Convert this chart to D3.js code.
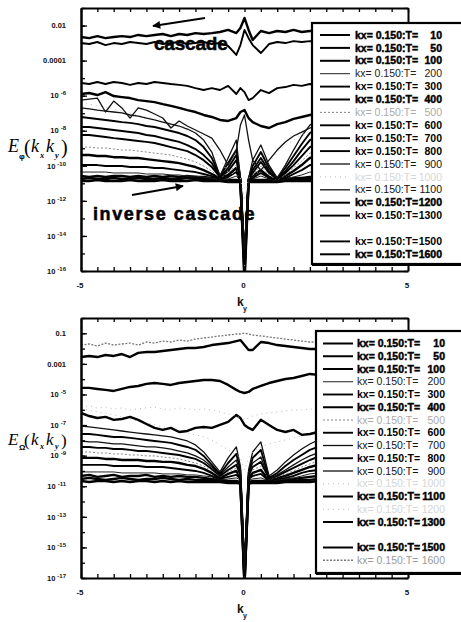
<!DOCTYPE html>
<html>
<head>
<meta charset="utf-8">
<script src="https://cdn.jsdelivr.net/npm/d3@7"></script>
<style>
  html, body { margin: 0; padding: 0; background: #fff; }
  svg { display: block; }
</style>
</head>
<body>
<svg id="chart" width="461" height="622"></svg>
<script>
// ky sample points (finer around ky = 0)
const ky = [-5,-4.75,-4.5,-4.25,-4,-3.75,-3.5,-3.25,-3,-2.75,-2.5,-2.25,-2,-1.75,-1.5,-1.25,-1,-0.75,-0.5,-0.25,
  -0.125,0,0.125,
  0.25,0.5,0.75,1,1.25,1.5,1.75,2,2.25,2.5,2.75,3,3.25,3.5,3.75,4,4.25,4.5,4.75,5];

const legendT = [10,50,100,200,300,400,500,600,700,800,900,1000,1100,1200,1300,1400,1500,1600];

// ---------- E_phi(kx=0.15, ky) ----------
const phiT1600 = [2.2e-3,1.9e-3,2.5e-3,1.9e-3,2.2e-3,2.5e-3,2.2e-3,2.9e-3,2.5e-3,2.9e-3,3.3e-3,2.5e-3,3.3e-3,2.9e-3,3.7e-3,3.3e-3,3.7e-3,4.3e-3,5.6e-3,3.7e-3,
  7.2e-3,2.7e-2,5.6e-3,
  1.5e-3,4.9e-3,3.7e-3,4.9e-3,4.3e-3,5.6e-3,4.3e-3,4.9e-3,4.9e-3,5.6e-3,4.3e-3,4.9e-3,5.6e-3,4.9e-3,4.3e-3,5.6e-3,4.9e-3,5.6e-3,4.9e-3,5.6e-3];
const phiT1500 = [1.0e-3,8.8e-4,1.15e-3,7.7e-4,1.0e-3,8.8e-4,1.15e-3,1.0e-3,8.8e-4,1.15e-3,8.8e-4,1.0e-3,1.15e-3,8.8e-4,1.0e-3,1.15e-3,8.8e-4,1.0e-3,6.8e-4,2.1e-4,
  7.7e-4,5.6e-3,1.9e-3,
  7.7e-4,2.7e-4,8.8e-4,1.15e-3,1.0e-3,1.3e-3,1.15e-3,1.3e-3,1.15e-3,1.3e-3,1.0e-3,1.15e-3,1.3e-3,1.15e-3,1.0e-3,1.3e-3,1.15e-3,1.3e-3,1.15e-3,1.3e-3];
const phiT1300 = [5.3e-6,4.6e-6,6.0e-6,4.6e-6,6.0e-6,5.3e-6,4.1e-6,5.3e-6,4.6e-6,6.0e-6,5.3e-6,4.6e-6,4.1e-6,3.6e-6,2.7e-6,2.1e-6,2.7e-6,2.1e-6,3.6e-6,1.24e-6,
  2.7e-6,1.6e-6,5.6e-7,
  7.3e-7,2.1e-6,1.4e-6,2.7e-6,3.1e-6,4.1e-6,3.6e-6,4.6e-6,4.1e-6,4.6e-6,5.3e-6,4.1e-6,4.6e-6,5.3e-6,4.6e-6,4.1e-6,5.3e-6,4.6e-6,5.3e-6,4.6e-6];
const phiT1200 = [1.24e-6,1.42e-6,1.09e-6,1.6e-6,9.5e-7,8.3e-7,7.3e-7,5.6e-7,4.9e-7,4.3e-7,3.3e-7,2.6e-7,2.0e-7,1.5e-7,1.17e-7,7.9e-8,6.1e-8,4.1e-8,3.6e-8,5.3e-8,
  1.17e-7,1.5e-7,5.3e-8,
  3.1e-8,1.86e-8,1.43e-8,2.4e-8,3.1e-8,4.7e-8,6.1e-8,7.9e-8,1.03e-7,1.33e-7,1.5e-7,2.0e-7,2.3e-7,2.6e-7,2.9e-7,3.3e-7,3.8e-7,4.3e-7,4.3e-7,4.9e-7];
const phiT1100 = [5.6e-7,6.4e-7,7.3e-7,1.17e-7,4.9e-7,2.0e-7,5.3e-8,2.0e-7,1.5e-7,9.0e-8,5.3e-8,1.43e-8,3.6e-8,1.86e-8,1.1e-8,6.5e-9,3.8e-9,7.9e-10,1.1e-10,7.9e-10,
  2.1e-8,7.9e-8,2.95e-9,
  2.1e-10,5.7e-11,2.1e-10,7.9e-10,2.3e-9,5.0e-9,8.4e-9,1.43e-8,2.1e-8,3.1e-8,4.1e-8,5.3e-8,6.9e-8,9.0e-8,1.17e-7,1.33e-7,1.5e-7,1.75e-7,2.0e-7,2.0e-7];
const phiT1000 = [3.8e-7,3.3e-7,2.6e-7,2.3e-7,1.75e-7,1.33e-7,1.03e-7,7.9e-8,6.1e-8,4.7e-8,3.6e-8,2.8e-8,2.1e-8,1.43e-8,8.4e-9,4.4e-9,1.53e-9,2.1e-10,4.4e-11,3.0e-11,
  2.0e-11,1.1e-12,2.0e-11,
  3.0e-11,5.7e-11,1.64e-10,6.1e-10,1.53e-9,2.95e-9,5.7e-9,9.6e-9,1.43e-8,2.1e-8,2.8e-8,3.6e-8,4.7e-8,6.1e-8,6.9e-8,7.9e-8,9.0e-8,1.03e-7,1.17e-7,1.17e-7];
const phiT900 = [2.0e-7,1.75e-7,1.5e-7,1.33e-7,1.17e-7,1.03e-7,7.9e-8,6.9e-8,5.3e-8,4.1e-8,3.1e-8,2.4e-8,1.86e-8,1.25e-8,7.4e-9,2.95e-9,6.1e-10,2.6e-11,2.8e-10,2.95e-9,
  2.0e-11,1.6e-15,2.0e-11,
  2.1e-10,1.53e-9,1.1e-10,2.0e-11,1.1e-10,7.9e-10,5.0e-9,2.1e-8,4.1e-8,6.1e-8,7.9e-8,9.0e-8,1.03e-7,1.17e-7,1.33e-7,1.5e-7,1.5e-7,1.75e-7,1.75e-7,2.0e-7];
const phiT800 = [6.1e-8,5.3e-8,4.7e-8,4.1e-8,3.6e-8,3.1e-8,2.8e-8,2.4e-8,1.86e-8,1.63e-8,1.25e-8,9.6e-9,7.4e-9,5.0e-9,2.95e-9,1.17e-9,2.8e-10,2.6e-11,1.43e-10,7.9e-10,
  1.77e-11,8.1e-16,1.77e-11,
  9.7e-11,6.1e-10,7.5e-11,2.0e-11,7.5e-11,3.6e-10,1.75e-9,7.4e-9,1.43e-8,2.1e-8,2.8e-8,3.1e-8,3.6e-8,4.1e-8,4.7e-8,4.7e-8,5.3e-8,5.3e-8,6.1e-8,6.1e-8];
const phiT700 = [1.63e-8,1.63e-8,1.43e-8,1.25e-8,1.1e-8,9.6e-9,8.4e-9,7.4e-9,5.7e-9,5.0e-9,3.8e-9,2.95e-9,2.3e-9,1.53e-9,9.0e-10,4.1e-10,1.43e-10,2.3e-11,7.5e-11,4.1e-10,
  1.77e-11,4.2e-16,1.77e-11,
  5.7e-11,2.8e-10,5.0e-11,1.77e-11,5.0e-11,1.86e-10,7.9e-10,2.95e-9,5.0e-9,7.4e-9,9.6e-9,1.1e-8,1.25e-8,1.25e-8,1.43e-8,1.43e-8,1.63e-8,1.63e-8,1.63e-8,1.63e-8];
const phiT600 = [5.7e-9,5.7e-9,5.0e-9,4.4e-9,3.8e-9,3.4e-9,2.95e-9,2.6e-9,2.3e-9,2.0e-9,1.53e-9,1.17e-9,9.0e-10,6.9e-10,4.1e-10,2.1e-10,8.5e-11,2.3e-11,5.0e-11,2.1e-10,
  1.55e-11,2.5e-16,1.55e-11,
  3.9e-11,1.64e-10,3.9e-11,1.77e-11,3.9e-11,1.1e-10,3.6e-10,1.17e-9,2.0e-9,2.6e-9,3.4e-9,3.8e-9,4.4e-9,5.0e-9,5.0e-9,5.7e-9,5.7e-9,5.7e-9,5.7e-9,5.7e-9];
const phiT500 = [1.17e-9,1.17e-9,1.03e-9,1.03e-9,9.0e-10,7.9e-10,7.9e-10,6.9e-10,6.1e-10,5.3e-10,4.7e-10,4.1e-10,3.1e-10,2.4e-10,1.64e-10,9.7e-11,5.0e-11,2.0e-11,3.9e-11,1.1e-10,
  1.55e-11,1.9e-16,1.55e-11,
  3.0e-11,9.7e-11,3.0e-11,1.55e-11,3.0e-11,7.5e-11,1.86e-10,5.3e-10,7.9e-10,9.0e-10,1.03e-9,1.03e-9,1.17e-9,1.17e-9,1.17e-9,1.17e-9,1.17e-9,1.17e-9,1.17e-9,1.17e-9];
const phiT400 = [4.1e-10,4.1e-10,3.6e-10,3.6e-10,3.1e-10,3.1e-10,2.8e-10,2.8e-10,2.4e-10,2.1e-10,1.86e-10,1.64e-10,1.43e-10,1.1e-10,8.5e-11,5.7e-11,3.4e-11,2.0e-11,3.0e-11,7.5e-11,
  1.55e-11,1.5e-16,1.55e-11,
  2.6e-11,5.7e-11,2.3e-11,1.55e-11,2.6e-11,5.0e-11,1.1e-10,2.8e-10,3.6e-10,4.1e-10,4.1e-10,4.1e-10,4.1e-10,4.1e-10,4.1e-10,4.1e-10,4.1e-10,4.1e-10,4.1e-10,4.1e-10];
const phiT300 = [1.1e-10,1.1e-10,1.1e-10,9.7e-11,9.7e-11,9.7e-11,8.5e-11,8.5e-11,8.5e-11,7.5e-11,7.5e-11,6.5e-11,5.7e-11,5.0e-11,4.4e-11,3.4e-11,2.6e-11,1.77e-11,2.3e-11,4.4e-11,
  1.36e-11,1.1e-16,1.36e-11,
  2.0e-11,3.9e-11,2.0e-11,1.55e-11,2.0e-11,3.4e-11,5.7e-11,1.1e-10,1.1e-10,1.1e-10,1.1e-10,1.1e-10,1.1e-10,1.1e-10,1.1e-10,1.1e-10,1.1e-10,1.1e-10,1.1e-10,1.1e-10];
const phiT200 = [4.4e-11,4.4e-11,4.4e-11,4.4e-11,3.9e-11,3.9e-11,3.9e-11,3.9e-11,3.4e-11,3.4e-11,3.4e-11,3.0e-11,3.0e-11,2.6e-11,2.6e-11,2.3e-11,2.0e-11,1.55e-11,1.77e-11,2.6e-11,
  1.36e-11,1.0e-16,1.36e-11,
  1.77e-11,2.6e-11,1.77e-11,1.36e-11,1.77e-11,2.3e-11,3.0e-11,4.4e-11,4.4e-11,4.4e-11,4.4e-11,4.4e-11,4.4e-11,4.4e-11,4.4e-11,4.4e-11,4.4e-11,4.4e-11,4.4e-11,4.4e-11];
const phiT100 = [2.6e-11,2.3e-11,2.6e-11,2.3e-11,2.6e-11,2.6e-11,2.3e-11,2.6e-11,2.3e-11,2.6e-11,2.3e-11,2.6e-11,2.3e-11,2.6e-11,2.3e-11,2.3e-11,2.0e-11,1.77e-11,1.55e-11,1.55e-11,
  1.36e-11,3.2e-16,1.36e-11,
  1.55e-11,1.55e-11,1.55e-11,1.55e-11,1.77e-11,2.0e-11,2.0e-11,2.3e-11,2.3e-11,2.6e-11,2.3e-11,2.6e-11,2.3e-11,2.6e-11,2.3e-11,2.6e-11,2.3e-11,2.6e-11,2.3e-11,2.6e-11];
const phiT50 = [1.77e-11,2.0e-11,1.77e-11,1.77e-11,2.0e-11,1.77e-11,1.77e-11,2.0e-11,1.77e-11,1.77e-11,2.0e-11,1.77e-11,1.77e-11,2.0e-11,1.77e-11,1.77e-11,1.77e-11,1.55e-11,1.36e-11,1.36e-11,
  1.19e-11,5e-17,1.19e-11,
  1.36e-11,1.36e-11,1.36e-11,1.36e-11,1.55e-11,1.55e-11,1.77e-11,1.77e-11,1.77e-11,2.0e-11,1.77e-11,1.77e-11,2.0e-11,1.77e-11,1.77e-11,2.0e-11,1.77e-11,1.77e-11,2.0e-11,1.77e-11];
const phiT10 = [1.36e-11,1.36e-11,1.55e-11,1.36e-11,1.36e-11,1.36e-11,1.55e-11,1.36e-11,1.36e-11,1.36e-11,1.55e-11,1.36e-11,1.36e-11,1.36e-11,1.55e-11,1.36e-11,1.36e-11,1.36e-11,1.19e-11,1.19e-11,
  1.19e-11,2e-17,1.19e-11,
  1.19e-11,1.19e-11,1.19e-11,1.19e-11,1.36e-11,1.36e-11,1.36e-11,1.36e-11,1.36e-11,1.36e-11,1.36e-11,1.36e-11,1.36e-11,1.36e-11,1.36e-11,1.36e-11,1.36e-11,1.36e-11,1.36e-11,1.36e-11];

// ---------- E_Omega(kx=0.15, ky) ----------
const omT1600 = [1.7e-2,2.0e-2,1.48e-2,2.3e-2,1.7e-2,2.0e-2,2.3e-2,1.7e-2,2.7e-2,2.3e-2,3.1e-2,2.7e-2,3.6e-2,3.1e-2,4.2e-2,4.9e-2,5.7e-2,6.7e-2,7.7e-2,9.0e-2,
  9.0e-2,1.05e-1,9.0e-2,
  7.7e-2,6.7e-2,5.7e-2,4.9e-2,4.2e-2,3.6e-2,3.1e-2,2.7e-2,2.7e-2,2.3e-2,2.7e-2,2.3e-2,2.7e-2,3.1e-2,2.7e-2,2.3e-2,2.7e-2,2.3e-2,2.7e-2,2.3e-2];
const omT1500 = [2.8e-3,3.3e-3,2.8e-3,3.8e-3,3.3e-3,4.4e-3,2.8e-3,5.2e-3,6.0e-3,6.0e-3,7.0e-3,8.1e-3,9.4e-3,1.09e-2,1.09e-2,1.27e-2,1.7e-2,2.0e-2,2.3e-2,3.1e-2,
  3.6e-2,1.7e-2,8.1e-3,
  8.1e-3,2.7e-2,2.3e-2,1.7e-2,1.48e-2,1.27e-2,1.09e-2,9.4e-3,9.4e-3,8.1e-3,9.4e-3,1.09e-2,9.4e-3,8.1e-3,9.4e-3,1.09e-2,9.4e-3,8.1e-3,9.4e-3,8.1e-3];
const omT1300 = [2.7e-5,2.7e-5,2.3e-5,2.0e-5,1.7e-5,2.3e-5,3.1e-5,3.6e-5,4.9e-5,5.6e-5,4.9e-5,4.2e-5,5.6e-5,6.6e-5,7.6e-5,8.9e-5,8.9e-5,7.6e-5,4.2e-5,2.0e-5,
  1.46e-5,1.25e-5,1.46e-5,
  2.3e-5,3.6e-5,5.6e-5,7.6e-5,1.03e-4,1.2e-4,1.62e-4,2.2e-4,1.9e-4,1.62e-4,1.39e-4,1.62e-4,1.2e-4,1.03e-4,8.9e-5,7.6e-5,6.6e-5,5.6e-5,4.9e-5,4.2e-5];
const omT1200 = [1.52e-6,1.77e-6,1.31e-6,1.52e-6,1.13e-6,1.31e-6,9.7e-7,1.13e-6,1.31e-6,1.52e-6,1.13e-6,9.7e-7,1.31e-6,1.13e-6,9.7e-7,1.13e-6,9.7e-7,7.2e-7,5.3e-7,3.9e-7,
  2.9e-7,2.2e-7,2.9e-7,
  3.9e-7,5.3e-7,6.2e-7,7.2e-7,8.4e-7,9.7e-7,9.7e-7,1.13e-6,1.13e-6,1.31e-6,1.13e-6,9.7e-7,1.13e-6,1.31e-6,1.13e-6,9.7e-7,1.13e-6,1.31e-6,1.13e-6,9.7e-7];
const omT1100 = [6.2e-7,3.9e-7,2.9e-7,3.4e-7,2.2e-7,2.5e-7,3.4e-7,2.2e-7,1.18e-7,6.5e-8,4.8e-8,6.5e-8,3.5e-8,4.1e-8,6.5e-8,7.5e-8,6.5e-8,1.02e-7,1.6e-7,4.6e-7,
  2.9e-7,1.02e-7,6.5e-8,
  4.8e-8,2.2e-7,1.02e-7,4.8e-8,3.5e-8,4.8e-8,2.3e-8,2.6e-8,3.5e-8,4.8e-8,6.5e-8,8.7e-8,1.18e-7,1.6e-7,2.2e-7,2.5e-7,2.9e-7,3.4e-7,3.9e-7,4.6e-7];
const omT1000 = [1.13e-6,9.7e-7,7.2e-7,6.2e-7,4.6e-7,3.4e-7,2.5e-7,1.85e-7,1.37e-7,1.02e-7,7.5e-8,5.6e-8,4.1e-8,3.0e-8,2.3e-8,1.67e-8,1.06e-8,5.0e-9,2.4e-9,1.11e-9,
  7.1e-10,1.16e-10,7.1e-10,
  1.75e-9,3.7e-9,5.8e-9,7.9e-9,1.06e-8,1.44e-8,1.94e-8,2.3e-8,3.0e-8,4.1e-8,5.6e-8,7.5e-8,1.02e-7,1.37e-7,1.85e-7,2.5e-7,3.4e-7,4.6e-7,6.2e-7,7.2e-7];
const omT900 = [8.7e-8,7.5e-8,6.5e-8,5.6e-8,4.8e-8,4.1e-8,3.5e-8,3.0e-8,2.6e-8,2.3e-8,1.94e-8,1.67e-8,1.24e-8,9.1e-9,5.0e-9,1.75e-9,3.9e-10,8.6e-11,7.1e-10,3.7e-9,
  2.1e-10,3e-17,1.16e-10,
  1.75e-9,7.9e-9,4.7e-11,1.16e-10,3.9e-10,1.11e-9,2.7e-9,5.8e-9,1.06e-8,1.67e-8,2.3e-8,3.0e-8,4.1e-8,4.8e-8,5.6e-8,6.5e-8,7.5e-8,7.5e-8,8.7e-8,8.7e-8];
const omT800 = [2.6e-8,2.6e-8,2.3e-8,1.94e-8,1.67e-8,1.67e-8,1.44e-8,1.24e-8,1.06e-8,9.1e-9,7.9e-9,6.8e-9,5.0e-9,3.7e-9,2.4e-9,9.6e-10,2.5e-10,6.4e-11,3.3e-10,1.29e-9,
  1.16e-10,2.5e-17,7.4e-11,
  7.1e-10,2.4e-9,3.5e-11,7.4e-11,2.1e-10,5.2e-10,1.11e-9,2.4e-9,3.7e-9,5.8e-9,7.9e-9,1.06e-8,1.24e-8,1.44e-8,1.67e-8,1.94e-8,2.3e-8,2.3e-8,2.6e-8,2.6e-8];
const omT700 = [9.1e-9,7.9e-9,7.9e-9,6.8e-9,5.8e-9,5.8e-9,5.0e-9,4.3e-9,3.7e-9,3.7e-9,3.2e-9,2.7e-9,2.0e-9,1.5e-9,9.6e-10,5.2e-10,1.82e-10,5.5e-11,1.82e-10,5.2e-10,
  7.4e-11,2e-17,5.5e-11,
  3.3e-10,8.2e-10,3.0e-11,5.5e-11,1.16e-10,2.5e-10,5.2e-10,9.6e-10,1.5e-9,2.0e-9,2.7e-9,3.7e-9,4.3e-9,5.0e-9,5.8e-9,6.8e-9,7.9e-9,7.9e-9,9.1e-9,9.1e-9];
const omT600 = [3.7e-9,3.7e-9,3.2e-9,3.2e-9,2.7e-9,2.7e-9,2.4e-9,2.0e-9,2.0e-9,1.75e-9,1.5e-9,1.29e-9,1.11e-9,8.2e-10,6.1e-10,3.3e-10,1.35e-10,4.7e-11,1.16e-10,2.5e-10,
  5.5e-11,1.5e-17,4.7e-11,
  1.82e-10,3.9e-10,3.0e-11,4.7e-11,8.6e-11,1.57e-10,2.9e-10,5.2e-10,8.2e-10,1.11e-9,1.5e-9,1.75e-9,2.0e-9,2.4e-9,2.7e-9,2.7e-9,3.2e-9,3.2e-9,3.7e-9,3.7e-9];
const omT500 = [1.75e-9,1.75e-9,1.5e-9,1.5e-9,1.29e-9,1.29e-9,1.11e-9,1.11e-9,9.6e-10,9.6e-10,8.2e-10,7.1e-10,6.1e-10,4.5e-10,3.3e-10,2.1e-10,1.0e-10,4.1e-11,8.6e-11,1.57e-10,
  4.1e-11,1.2e-17,4.1e-11,
  1.16e-10,2.1e-10,2.6e-11,4.1e-11,6.4e-11,1.0e-10,1.82e-10,2.9e-10,4.5e-10,6.1e-10,8.2e-10,9.6e-10,1.11e-9,1.29e-9,1.29e-9,1.5e-9,1.5e-9,1.75e-9,1.75e-9,1.75e-9];
const omT400 = [7.1e-10,7.1e-10,7.1e-10,6.1e-10,6.1e-10,5.2e-10,5.2e-10,5.2e-10,4.5e-10,4.5e-10,3.9e-10,3.9e-10,3.3e-10,2.5e-10,2.1e-10,1.35e-10,7.4e-11,3.5e-11,6.4e-11,1.0e-10,
  3.5e-11,1e-17,3.5e-11,
  7.4e-11,1.16e-10,2.6e-11,3.5e-11,4.7e-11,7.4e-11,1.16e-10,1.82e-10,2.5e-10,3.3e-10,3.9e-10,4.5e-10,5.2e-10,5.2e-10,6.1e-10,6.1e-10,7.1e-10,7.1e-10,7.1e-10,7.1e-10];
const omT300 = [2.5e-10,2.5e-10,2.5e-10,2.5e-10,2.1e-10,2.1e-10,2.1e-10,2.1e-10,1.82e-10,1.82e-10,1.82e-10,1.57e-10,1.35e-10,1.16e-10,1.0e-10,7.4e-11,4.7e-11,3.0e-11,4.1e-11,5.5e-11,
  3.0e-11,8e-18,3.0e-11,
  4.7e-11,6.4e-11,2.2e-11,3.0e-11,3.5e-11,4.7e-11,7.4e-11,1.0e-10,1.16e-10,1.35e-10,1.57e-10,1.82e-10,2.1e-10,2.1e-10,2.1e-10,2.5e-10,2.5e-10,2.5e-10,2.5e-10,2.5e-10];
const omT200 = [8.6e-11,8.6e-11,8.6e-11,8.6e-11,8.6e-11,7.4e-11,7.4e-11,7.4e-11,7.4e-11,7.4e-11,6.4e-11,6.4e-11,6.4e-11,5.5e-11,5.5e-11,4.7e-11,4.1e-11,2.6e-11,3.0e-11,3.5e-11,
  2.6e-11,6e-18,2.6e-11,
  3.0e-11,3.5e-11,2.2e-11,2.6e-11,3.0e-11,3.5e-11,4.7e-11,6.4e-11,7.4e-11,7.4e-11,8.6e-11,8.6e-11,8.6e-11,8.6e-11,8.6e-11,8.6e-11,8.6e-11,8.6e-11,8.6e-11,8.6e-11];
const omT100 = [4.7e-11,5.5e-11,4.1e-11,4.7e-11,5.5e-11,4.1e-11,4.7e-11,4.7e-11,5.5e-11,4.1e-11,4.7e-11,4.1e-11,4.7e-11,4.1e-11,4.1e-11,3.5e-11,3.0e-11,2.6e-11,2.2e-11,2.2e-11,
  1.9e-11,5e-18,1.9e-11,
  2.2e-11,2.2e-11,2.2e-11,2.2e-11,2.6e-11,3.0e-11,3.5e-11,4.1e-11,4.7e-11,4.1e-11,4.7e-11,5.5e-11,4.1e-11,4.7e-11,4.7e-11,5.5e-11,4.1e-11,4.7e-11,4.1e-11,4.7e-11];
const omT50 = [3.0e-11,3.5e-11,3.0e-11,2.6e-11,3.0e-11,3.5e-11,3.0e-11,2.6e-11,3.0e-11,3.0e-11,3.5e-11,3.0e-11,2.6e-11,3.0e-11,2.6e-11,2.6e-11,2.6e-11,2.2e-11,1.9e-11,1.9e-11,
  1.64e-11,4e-18,1.64e-11,
  1.9e-11,1.9e-11,1.9e-11,1.9e-11,2.2e-11,2.2e-11,2.6e-11,2.6e-11,3.0e-11,2.6e-11,3.0e-11,3.5e-11,3.0e-11,2.6e-11,3.0e-11,3.0e-11,3.5e-11,3.0e-11,2.6e-11,3.0e-11];
const omT10 = [2.2e-11,1.9e-11,2.2e-11,2.2e-11,1.9e-11,2.2e-11,1.9e-11,2.2e-11,2.2e-11,1.9e-11,2.2e-11,1.9e-11,2.2e-11,1.9e-11,1.9e-11,1.9e-11,1.9e-11,1.9e-11,1.64e-11,1.64e-11,
  1.42e-11,3e-18,1.42e-11,
  1.64e-11,1.64e-11,1.64e-11,1.64e-11,1.9e-11,1.9e-11,1.9e-11,1.9e-11,2.2e-11,1.9e-11,2.2e-11,2.2e-11,1.9e-11,2.2e-11,1.9e-11,2.2e-11,2.2e-11,1.9e-11,2.2e-11,1.9e-11];

const phiSeries = [
  {T:10,v:phiT10},{T:50,v:phiT50},{T:100,v:phiT100},{T:200,v:phiT200},{T:300,v:phiT300},
  {T:400,v:phiT400},{T:500,v:phiT500},{T:600,v:phiT600},{T:700,v:phiT700},{T:800,v:phiT800},
  {T:900,v:phiT900},{T:1000,v:phiT1000},{T:1100,v:phiT1100},{T:1200,v:phiT1200},{T:1300,v:phiT1300},
  {T:1500,v:phiT1500},{T:1600,v:phiT1600}];
const omSeries = [
  {T:10,v:omT10},{T:50,v:omT50},{T:100,v:omT100},{T:200,v:omT200},{T:300,v:omT300},
  {T:400,v:omT400},{T:500,v:omT500},{T:600,v:omT600},{T:700,v:omT700},{T:800,v:omT800},
  {T:900,v:omT900},{T:1000,v:omT1000},{T:1100,v:omT1100},{T:1200,v:omT1200},{T:1300,v:omT1300},
  {T:1500,v:omT1500},{T:1600,v:omT1600}];

// pen used for each time step, per panel
const phiPen = {10:'heavy',50:'heavy',100:'heavy',200:'thin',300:'bold',400:'heavy',500:'dot',600:'bold',700:'bold',
  800:'bold',900:'reg',1000:'faint',1100:'reg',1200:'heavy',1300:'bold',1400:'none',1500:'bold',1600:'heavy'};
const omPen = {10:'heavy',50:'heavy',100:'heavy',200:'thin',300:'bold',400:'heavy',500:'dot',600:'bold',700:'reg',
  800:'bold',900:'reg',1000:'faint',1100:'heavy',1200:'faint',1300:'heavy',1400:'none',1500:'heavy',1600:'gray'};

const pens = {
  heavy:{stroke:'#000',width:2.4,dash:null,text:'#000',weight:700,halo:0.45},
  bold: {stroke:'#000',width:1.9,dash:null,text:'#000',weight:700,halo:0},
  reg:  {stroke:'#111',width:1.3,dash:null,text:'#111',weight:400,halo:0},
  thin: {stroke:'#222',width:1.0,dash:null,text:'#222',weight:400,halo:0},
  dot:  {stroke:'#888',width:1.0,dash:'2,2',text:'#aaa',weight:400,halo:0},
  faint:{stroke:'#bbb',width:1.0,dash:'1,4',text:'#d6d6d6',weight:400,halo:0},
  gray: {stroke:'#777',width:1.3,dash:'2,1.5',text:'#9a9a9a',weight:400,halo:0}
};

const svg = d3.select('#chart');
const xLeft = 81, xRight = 408;
const x = d3.scaleLinear().domain([-5, 5]).range([xLeft, xRight]);

// title glyph sizes: E/k, sub-index, parentheses
const panels = [
  {id:'phi', top:8, bottom:271, dom:[1e-16,1e-1], series:phiSeries, pen:phiPen,
   labelled:[1e-2,1e-4,1e-6,1e-8,1e-10,1e-12,1e-14,1e-16],
   legend:{x:312, y:23, h:241, row0:35, step:12.9, lx:320, tx:355, nx:442},
   sub:'\u03c6', title:{y:152, big:18, small:8.5, paren:20, subDy:6, parenDy:2}},
  {id:'om', top:318, bottom:578, dom:[1e-17,1], series:omSeries, pen:omPen,
   labelled:[1e-1,1e-3,1e-5,1e-7,1e-9,1e-11,1e-13,1e-15,1e-17],
   legend:{x:316, y:331, h:242, row0:343.5, step:12.75, lx:323, tx:357, nx:445},
   sub:'\u03a9', title:{y:445, big:17, small:8, paren:17, subDy:4, parenDy:1}}
];

const sans = 'Liberation Sans, Arial, sans-serif';
const serif = 'Liberation Serif, Times New Roman, serif';

function tickText(sel, v) {
  const n = Math.round(Math.log10(v));
  const plain = {'-1':'0.1','-2':'0.01','-3':'0.001','-4':'0.0001'};
  if (plain[n] !== undefined) { sel.text(plain[n]); return; }
  sel.append('tspan').text('10');
  sel.append('tspan').attr('dx', 2).attr('dy', -3).attr('font-size', 6).text(String(n));
}

panels.forEach(p => {
  const y = d3.scaleLog().domain(p.dom).range([p.bottom, p.top]);
  const g = svg.append('g');

  g.append('clipPath').attr('id', 'clip-' + p.id)
    .append('rect').attr('x', xLeft).attr('y', p.top)
    .attr('width', xRight - xLeft).attr('height', p.bottom - p.top);

  const line = d3.line().x((d, i) => x(ky[i])).y(d => y(d));
  const lines = g.append('g').attr('clip-path', `url(#clip-${p.id})`);
  p.series.forEach(s => {
    const pen = pens[p.pen[s.T]];
    lines.append('path').attr('d', line(s.v))
      .attr('fill', 'none').attr('stroke', pen.stroke).attr('stroke-width', pen.width)
      .attr('stroke-dasharray', pen.dash).attr('stroke-linejoin', 'round');
  });

  // frame with inward ticks
  const decades = d3.range(Math.log10(p.dom[0]), Math.log10(p.dom[1]) + 0.5).map(e => Math.pow(10, e));
  const halfK = d3.range(-5, 5.01, 0.5);
  const styleAxis = a => {
    a.select('.domain').attr('stroke', '#000').attr('stroke-width', 2);
    a.selectAll('.tick line').attr('stroke', '#000').attr('stroke-width', 1.3);
  };
  g.append('g').attr('transform', `translate(0,${p.bottom})`)
    .call(d3.axisBottom(x).tickValues(halfK).tickSize(-4).tickSizeOuter(0).tickFormat('')).call(styleAxis);
  g.append('g').attr('transform', `translate(0,${p.top})`)
    .call(d3.axisTop(x).tickValues(halfK).tickSize(-4).tickSizeOuter(0).tickFormat('')).call(styleAxis);
  g.append('g').attr('transform', `translate(${xLeft},0)`)
    .call(d3.axisLeft(y).tickValues(decades).tickSize(-4).tickSizeOuter(0).tickFormat('')).call(styleAxis);
  g.append('g').attr('transform', `translate(${xLeft},0)`)
    .call(d3.axisLeft(y).tickValues(p.labelled).tickSize(-6).tickSizeOuter(0).tickFormat('')).call(styleAxis);
  g.append('g').attr('transform', `translate(${xRight},0)`)
    .call(d3.axisRight(y).tickValues(decades).tickSize(-4).tickSizeOuter(0).tickFormat('')).call(styleAxis);

  // y tick labels
  p.labelled.forEach(v => {
    const t = g.append('text').attr('x', 66).attr('y', y(v) + 2.7)
      .attr('text-anchor', 'end').attr('font-family', sans).attr('font-weight', 700)
      .attr('font-size', 7.5).attr('fill', '#111');
    tickText(t, v);
  });
  // x tick labels
  [-5, 0, 5].forEach(v => {
    g.append('text').attr('x', x(v) - 1).attr('y', p.bottom + 17)
      .attr('text-anchor', 'middle').attr('font-family', sans).attr('font-weight', 700)
      .attr('font-size', 8).attr('fill', '#111').text(v);
  });
  // x title k_y
  g.append('text').attr('x', 237).attr('y', p.bottom + 35).attr('font-family', sans)
    .attr('font-weight', 700).attr('font-size', 12).attr('fill', '#111').text('k');
  g.append('text').attr('x', 243).attr('y', p.bottom + 40).attr('font-family', sans)
    .attr('font-weight', 700).attr('font-size', 7).attr('fill', '#111').text('y');

  // y title E_sub(k_x k_y)
  const tt = p.title, by = tt.y;
  const tg = g.append('g').attr('fill', '#000');
  const ital = (xx, yy, size, txt, bold) => tg.append('text').attr('x', xx).attr('y', yy)
    .attr('font-family', serif).attr('font-style', 'italic').attr('font-weight', bold ? 700 : 400)
    .attr('font-size', size).text(txt);
  ital(8, by, tt.big, 'E');
  tg.append('text').attr('x', 19).attr('y', by + tt.subDy + 1).attr('font-family', sans).attr('font-weight', 700)
    .attr('font-size', 8).text(p.sub);
  tg.append('text').attr('x', 24).attr('y', by + tt.parenDy).attr('font-family', serif)
    .attr('font-size', tt.paren).text('(');
  ital(31, by, tt.big, 'k');
  ital(40, by + tt.subDy, tt.small, 'x', true);
  ital(46, by, tt.big, 'k');
  ital(55, by + tt.subDy, tt.small, 'y', true);
  tg.append('text').attr('x', 61).attr('y', by + tt.parenDy).attr('font-family', serif)
    .attr('font-size', tt.paren).text(')');

  // legend
  const L = p.legend;
  const lg = g.append('g');
  lg.append('rect').attr('x', L.x).attr('y', L.y + 2).attr('width', 200).attr('height', L.h)
    .attr('fill', '#000');
  lg.append('rect').attr('x', L.x).attr('y', L.y).attr('width', 200).attr('height', L.h)
    .attr('fill', '#fff').attr('stroke', '#000').attr('stroke-width', 2.2);
  legendT.forEach((T, i) => {
    const pen = pens[p.pen[T]];
    if (!pen) return;
    const ry = L.row0 + i * L.step;
    lg.append('line').attr('x1', L.lx).attr('x2', L.lx + 30).attr('y1', ry).attr('y2', ry)
      .attr('stroke', pen.stroke).attr('stroke-width', Math.min(pen.width, 2))
      .attr('stroke-dasharray', pen.dash);
    const common = t => t.attr('y', ry).attr('dy', '0.35em').attr('font-family', sans)
      .attr('font-size', 10.5).attr('font-weight', pen.weight).attr('fill', pen.text)
      .attr('stroke', pen.halo ? pen.text : null).attr('stroke-width', pen.halo || null);
    lg.append('text').attr('x', L.tx).call(common).text('kx= 0.150:T=');
    lg.append('text').attr('x', L.nx).attr('text-anchor', 'end').call(common).text(T);
  });
});

// annotations on the potential panel
const ann = svg.append('g');
const defs = svg.append('defs');
defs.append('marker').attr('id', 'head').attr('viewBox', '0 0 10 10').attr('refX', 9).attr('refY', 5)
  .attr('markerWidth', 5).attr('markerHeight', 4).attr('orient', 'auto')
  .append('path').attr('d', 'M0,0 L10,5 L0,10 z').attr('fill', '#000');
ann.append('line').attr('x1', 205).attr('y1', 18).attr('x2', 153).attr('y2', 26)
  .attr('stroke', '#000').attr('stroke-width', 2).attr('marker-end', 'url(#head)');
ann.append('line').attr('x1', 132).attr('y1', 195).attr('x2', 183).attr('y2', 186)
  .attr('stroke', '#000').attr('stroke-width', 2).attr('marker-end', 'url(#head)');
ann.append('text').attr('x', 154).attr('y', 50).attr('font-family', sans).attr('font-weight', 700)
  .attr('font-size', 19).attr('letter-spacing', -0.2).attr('fill', '#000')
  .attr('stroke', '#000').attr('stroke-width', 0.5).text('cascade');
ann.append('text').attr('x', 93).attr('y', 220).attr('font-family', sans).attr('font-weight', 700)
  .attr('font-size', 18).attr('letter-spacing', 1.6).attr('fill', '#000')
  .attr('stroke', '#000').attr('stroke-width', 0.5).text('inverse cascade');
</script>
</body>
</html>
